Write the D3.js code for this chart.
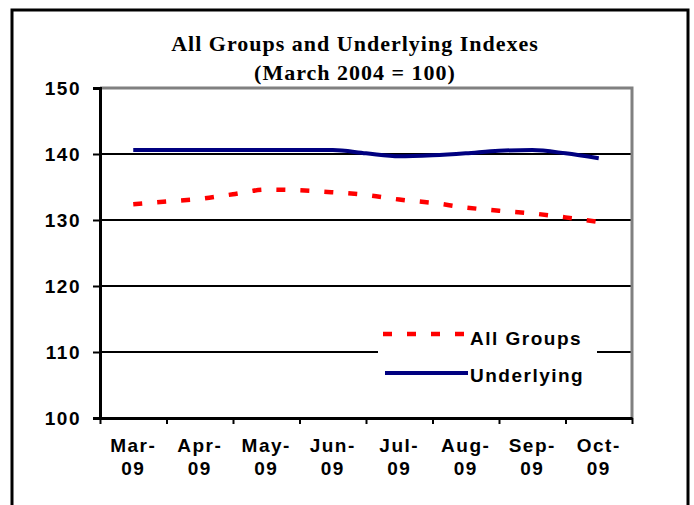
<!DOCTYPE html>
<html>
<head>
<meta charset="utf-8">
<script src="https://cdn.jsdelivr.net/npm/d3@7"></script>
<style>
  body { margin: 0; background: #fff; }
  svg { display: block; }
  .lbl { font-family: 'Liberation Sans', Arial, sans-serif; font-weight: bold; font-size: 19px; letter-spacing: 1.5px; fill: #000; }
  .title { font-family: 'Liberation Serif', 'Times New Roman', serif; font-weight: bold; font-size: 22px; letter-spacing: 1px; fill: #000; }
</style>
</head>
<body>
<svg width="694" height="505"></svg>
<script>
const months = ['Mar', 'Apr', 'May', 'Jun', 'Jul', 'Aug', 'Sep', 'Oct'];
const yearLabel = '09';
const yTicks = [100, 110, 120, 130, 140, 150];

// half-month points, position in months from the start of March
const pos = [0.5, 1, 1.5, 2, 2.5, 3, 3.5, 4, 4.5, 5, 5.5, 6, 6.5, 7, 7.5];
const allGroups = [132.4, 132.8, 133.2, 133.9, 134.6, 134.5, 134.2, 133.8, 133.1, 132.6, 131.9, 131.4, 131.0, 130.4, 129.7];
const underlying = [140.6, 140.6, 140.6, 140.6, 140.6, 140.6, 140.6, 140.1, 139.65, 139.8, 140.1, 140.5, 140.6, 140.1, 139.35];

const svg = d3.select('svg');

// outer frame
svg.append('rect')
  .attr('x', 12).attr('y', 10)
  .attr('width', 676).attr('height', 530)
  .attr('fill', 'none').attr('stroke', '#000').attr('stroke-width', 3);

const plot = { left: 100, right: 632, top: 88, bottom: 418 };

const x = d3.scaleLinear().domain([0, months.length]).range([plot.left, plot.right]);
const y = d3.scaleLinear().domain([100, 150]).range([plot.bottom, plot.top]);

// title
const title = svg.append('g');
title.append('text').attr('class', 'title')
  .attr('x', 355).attr('y', 51).attr('text-anchor', 'middle')
  .text('All Groups and Underlying Indexes');
title.append('text').attr('class', 'title')
  .attr('x', 355).attr('y', 80).attr('text-anchor', 'middle')
  .text('(March 2004 = 100)');

// gridlines
svg.append('g')
  .selectAll('line')
  .data(yTicks.filter(d => d > 100 && d < 150))
  .enter()
  .append('line')
  .attr('x1', plot.left).attr('x2', plot.right)
  .attr('y1', d => y(d)).attr('y2', d => y(d))
  .attr('stroke', '#000').attr('stroke-width', 2);

// plot area border (top and right, grey)
svg.append('path')
  .attr('d', `M${plot.left},${y(150)}H${plot.right}V${plot.bottom}`)
  .attr('fill', 'none').attr('stroke', '#808080').attr('stroke-width', 3);

// y axis
const yAxis = d3.axisLeft(y).tickValues(yTicks).tickSize(7).tickPadding(12).tickFormat(d3.format('d'));
const yg = svg.append('g')
  .attr('transform', `translate(${plot.left},0)`)
  .call(yAxis);
yg.select('.domain').attr('stroke', '#000').attr('stroke-width', 3);
yg.selectAll('.tick line').attr('stroke', '#000').attr('stroke-width', 2);
yg.selectAll('.tick text').attr('class', 'lbl').attr('font-family', null).attr('font-size', null);

// x axis
const xAxis = d3.axisBottom(x).tickValues(d3.range(months.length + 1)).tickSize(6).tickSizeOuter(0).tickFormat('');
const xg = svg.append('g')
  .attr('transform', `translate(0,${plot.bottom})`)
  .call(xAxis);
xg.select('.domain').attr('stroke', '#000').attr('stroke-width', 3);
xg.selectAll('.tick line').attr('stroke', '#000').attr('stroke-width', 2);

const xl = svg.append('g');
months.forEach((m, i) => {
  xl.append('text').attr('class', 'lbl')
    .attr('x', x(i + 0.5)).attr('y', 452).attr('text-anchor', 'middle')
    .text(m + '-');
  xl.append('text').attr('class', 'lbl')
    .attr('x', x(i + 0.5)).attr('y', 475).attr('text-anchor', 'middle')
    .text(yearLabel);
});

// series
const line = vals => d3.line()
  .x((d, i) => x(pos[i]))
  .y(d => y(d))
  .curve(d3.curveMonotoneX)(vals);

svg.append('path')
  .attr('d', line(underlying))
  .attr('fill', 'none').attr('stroke', '#000080').attr('stroke-width', 4);

svg.append('path')
  .attr('d', line(allGroups))
  .attr('fill', 'none').attr('stroke', '#ff0000').attr('stroke-width', 4.5)
  .attr('stroke-dasharray', '9,15');

// legend
const legend = svg.append('g').attr('transform', 'translate(378,316)');
legend.append('rect').attr('width', 219).attr('height', 76).attr('fill', '#fff');
legend.append('line')
  .attr('x1', 5).attr('x2', 90).attr('y1', 18).attr('y2', 18)
  .attr('stroke', '#ff0000').attr('stroke-width', 4.5).attr('stroke-dasharray', '9,15');
legend.append('text').attr('class', 'lbl').attr('x', 92).attr('y', 29).text('All Groups');
legend.append('line')
  .attr('x1', 7).attr('x2', 90).attr('y1', 57).attr('y2', 57)
  .attr('stroke', '#000080').attr('stroke-width', 4);
legend.append('text').attr('class', 'lbl').attr('x', 92).attr('y', 66).text('Underlying');
</script>
</body>
</html>
